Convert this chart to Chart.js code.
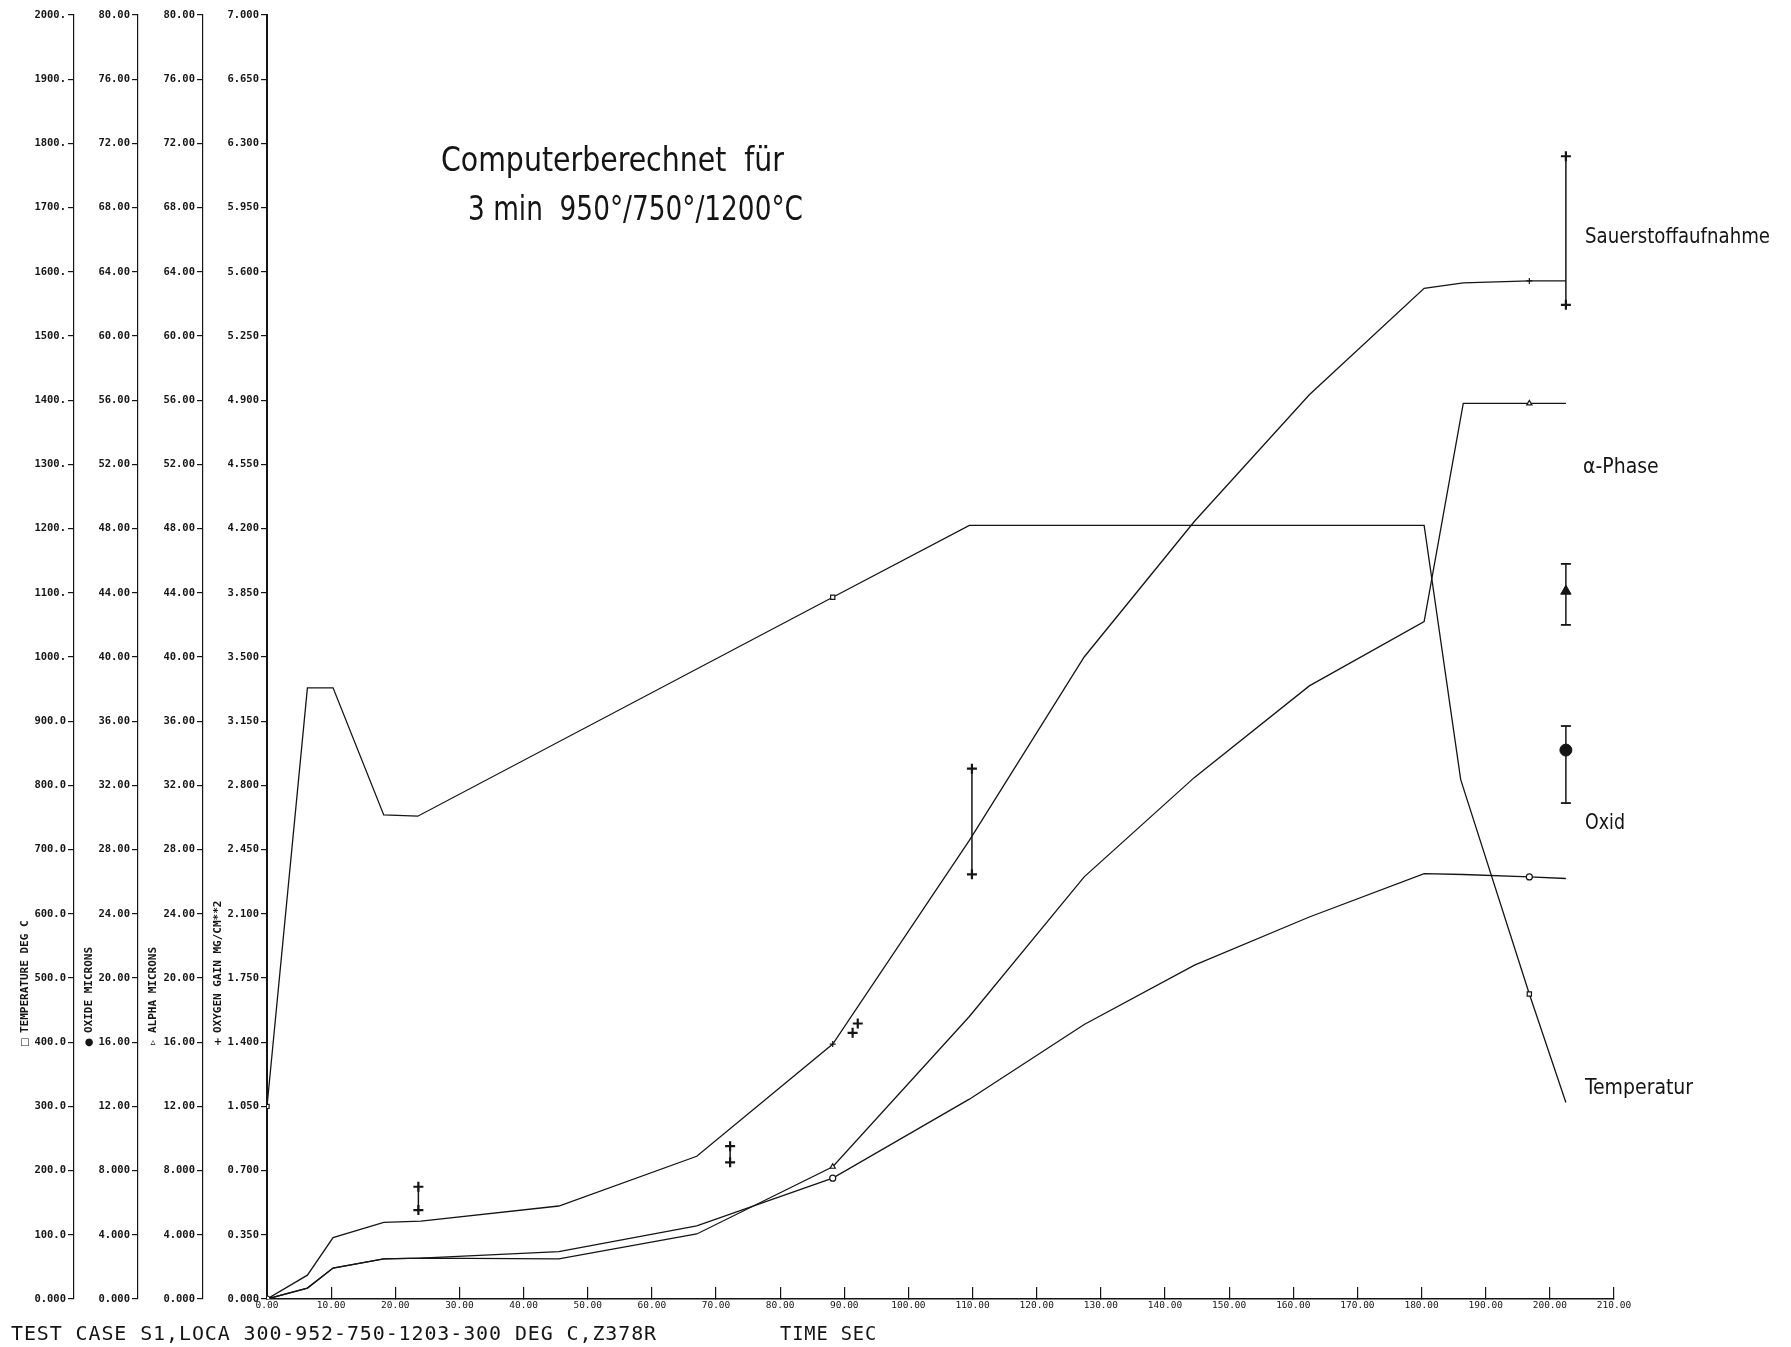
<!DOCTYPE html>
<html>
<head>
<meta charset="utf-8">
<title>Computerberechnet für 3 min 950°/750°/1200°C</title>
<script src="https://cdn.jsdelivr.net/npm/chart.js@4.4.0/dist/chart.umd.min.js"></script>
<style>
  html, body { margin: 0; padding: 0; background: #fff; }
  canvas { display: block; }
</style>
</head>
<body>
<canvas id="locaChart" width="1791" height="1347"></canvas>
<script>
// Rechenwerte, Zeit in s
const tempTime = [0, 6.3, 10.3, 18.2, 23.5, 88.2, 109.5, 180.4, 186.1, 196.8, 202.5];
const tempValues = [300, 952, 952, 754, 752, 1093, 1205, 1205, 809, 475, 306];

const modelTime = [0, 6.3, 10.3, 18.2, 24, 45.5, 67, 88.2, 109.5, 127.4, 144.6, 162.5, 180.4, 186.5, 196.8, 202.5];
const oxygenValues = [0, 0.13, 0.335, 0.418, 0.425, 0.507, 0.778, 1.39, 2.5, 3.5, 4.24, 4.93, 5.51, 5.54, 5.55, 5.55];
const alphaValues = [0, 0.68, 1.93, 2.5, 2.55, 2.5, 4.05, 8.24, 17.6, 26.3, 32.5, 38.2, 42.2, 55.8, 55.8, 55.8];
const oxideValues = [0, 0.68, 1.93, 2.5, 2.55, 2.95, 4.55, 7.53, 12.45, 17.1, 20.8, 23.8, 26.5, 26.45, 26.3, 26.2];

// Plotter-Symbole auf den Kurven
const markTimes = [0, 88.2, 196.8];

// Messwerte
const oxyBarTime = [23.6, 72.2, 109.9, 202.5];
const oxyBarLow = [0.485, 0.745, 2.315, 5.42];
const oxyBarHigh = [0.612, 0.833, 2.891, 6.23];
const oxyPointTime = [91.3, 92.1];
const oxyPointValues = [1.451, 1.502];
const expTime = 202.5;
const alphaExp = [42.0, 44.1, 45.8];   // min, mittel, max
const oxideExp = [30.9, 34.2, 35.7];

const titleLines = ['Computerberechnet  für', '3 min  950°/750°/1200°C'];
const footer = 'TEST CASE S1,LOCA 300-952-750-1203-300 DEG C,Z378R';
const xTitle = 'TIME SEC';

const ink = '#151515';
const pts = (xs, ys) => xs.map((x, i) => ({ x, y: ys[i] }));

// 2000. / 900.0 / 76.00 / 8.000 / 0.350 usw.
const fortran5 = v => {
  const a = Math.abs(v);
  if (a >= 1000) return Math.round(v) + '.';
  if (a >= 100) return v.toFixed(1);
  if (a >= 10) return v.toFixed(2);
  return v.toFixed(3);
};

const curve = (label, xs, ys, axis, style) => ({
  label,
  data: pts(xs, ys),
  yAxisID: axis,
  borderColor: ink,
  borderWidth: 1.3,
  tension: 0,
  pointStyle: style,
  pointRadius: c => markTimes.includes(xs[c.dataIndex]) ? 3 : 0,
  pointBorderColor: ink,
  pointBackgroundColor: '#fff',
  pointBorderWidth: 1.2
});

const oxyBars = oxyBarTime.map((t, i) => ({
  label: 'Sauerstoff Messung',
  data: [{ x: t, y: oxyBarLow[i] }, { x: t, y: oxyBarHigh[i] }],
  yAxisID: 'yO',
  showLine: true,
  borderColor: ink,
  borderWidth: 1.5,
  pointStyle: 'cross',
  pointRadius: 5,
  pointBorderWidth: 2.2,
  pointBorderColor: ink
}));

const expBar = (label, vals, axis, style) => [
  {
    label,
    data: [{ x: expTime, y: vals[0] }, { x: expTime, y: vals[2] }],
    yAxisID: axis,
    showLine: true,
    borderColor: ink,
    borderWidth: 1.5,
    pointStyle: 'line',
    pointRadius: 5,
    pointBorderWidth: 1.8,
    pointBorderColor: ink
  },
  {
    label,
    data: [{ x: expTime, y: vals[1] }],
    yAxisID: axis,
    showLine: false,
    pointStyle: style,
    pointRadius: 6,
    pointBorderColor: ink,
    pointBackgroundColor: ink
  }
];

const yAxis = (min, max, step, weight, borderW) => ({
  type: 'linear',
  position: 'left',
  weight,
  min, max,
  afterFit: s => { s.width = weight === 2 ? 65 : 64; },
  ticks: {
    stepSize: step,
    autoSkip: false,
    padding: 2,
    color: ink,
    font: { family: '"DejaVu Sans Mono", monospace', size: 10.5, weight: 'bold' },
    callback: v => fortran5(v)
  },
  grid: { drawOnChartArea: false, drawTicks: true, tickLength: 6, color: ink, lineWidth: 1.2 },
  border: { display: true, color: ink, width: borderW }
});

const textPlugin = {
  id: 'plotTexts',
  afterDraw(chart) {
    const ctx = chart.ctx;
    ctx.save();
    ctx.fillStyle = ink;
    ctx.textBaseline = 'middle';
    ctx.textAlign = 'left';

    ctx.font = '34px "DejaVu Sans Condensed", "DejaVu Sans", sans-serif';
    ctx.fillText(titleLines[0], 441, 162, 343);
    ctx.fillText(titleLines[1], 468, 211, 335);

    ctx.font = '21px "DejaVu Sans Condensed", "DejaVu Sans", sans-serif';
    ctx.fillText('Sauerstoffaufnahme', 1585, 238, 185);
    ctx.fillText('α-Phase', 1583, 468, 82);
    ctx.fillText('Oxid', 1585, 824, 40);
    ctx.fillText('Temperatur', 1585, 1089, 111);

    ctx.font = '20px "DejaVu Sans Mono", monospace';
    ctx.letterSpacing = '0.9px';
    ctx.fillText(footer, 11, 1335, 646);
    ctx.fillText(xTitle, 780, 1335, 97);
    ctx.letterSpacing = '0px';

    // Achsentitel, senkrecht
    const axisTitles = [
      ['yT', '□', 'TEMPERATURE DEG C'],
      ['yOx', '●', 'OXIDE MICRONS'],
      ['yA', '▵', 'ALPHA MICRONS'],
      ['yO', '+', 'OXYGEN GAIN MG/CM**2']
    ];
    axisTitles.forEach(([id, sym, txt]) => {
      const x = chart.scales[id].left + 15;
      ctx.font = 'bold 10px "DejaVu Sans", sans-serif';
      ctx.textAlign = 'center';
      ctx.fillText(sym, x, 1042);
      ctx.save();
      ctx.translate(x, 1033);
      ctx.rotate(-Math.PI / 2);
      ctx.textAlign = 'left';
      ctx.font = 'bold 11px "DejaVu Sans Mono", monospace';
      ctx.fillText(txt, 0, 0);
      ctx.restore();
    });
    ctx.restore();
  }
};

new Chart(document.getElementById('locaChart'), {
  type: 'line',
  data: {
    datasets: [
      curve('Temperatur', tempTime, tempValues, 'yT', 'rect'),
      curve('Oxid', modelTime, oxideValues, 'yOx', 'circle'),
      curve('α-Phase', modelTime, alphaValues, 'yA', 'triangle'),
      curve('Sauerstoffaufnahme', modelTime, oxygenValues, 'yO', 'cross'),
      ...oxyBars,
      {
        label: 'Sauerstoff Messung',
        data: pts(oxyPointTime, oxyPointValues),
        yAxisID: 'yO',
        showLine: false,
        pointStyle: 'cross',
        pointRadius: 5,
        pointBorderWidth: 2.2,
        pointBorderColor: ink
      },
      ...expBar('α-Phase Messung', alphaExp, 'yA', 'triangle'),
      ...expBar('Oxid Messung', oxideExp, 'yOx', 'circle')
    ]
  },
  options: {
    responsive: false,
    animation: false,
    layout: { padding: { left: 10, top: 15, right: 177, bottom: 34 } },
    plugins: {
      legend: { display: false },
      tooltip: { enabled: false }
    },
    scales: {
      x: {
        type: 'linear',
        position: 'bottom',
        min: 0,
        max: 210,
        afterFit: s => { s.height = 14; },
        ticks: {
          stepSize: 10,
          autoSkip: false,
          maxRotation: 0,
          padding: 13,
          color: ink,
          font: { family: '"DejaVu Sans Mono", monospace', size: 9.5 },
          callback: v => v.toFixed(2)
        },
        grid: { drawOnChartArea: false, drawTicks: true, tickLength: -12, color: ink, lineWidth: 1.2 },
        border: { display: true, color: ink, width: 1.5 }
      },
      yT: yAxis(0, 2000, 100, 4, 1.2),
      yOx: yAxis(0, 80, 4, 3, 1.2),
      yA: yAxis(0, 80, 4, 2, 1.2),
      yO: yAxis(0, 7, 0.35, 1, 2)
    }
  },
  plugins: [textPlugin]
});
</script>
</body>
</html>
